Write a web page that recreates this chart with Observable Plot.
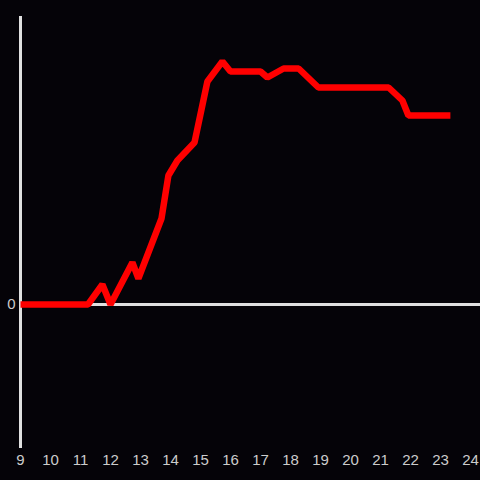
<!DOCTYPE html>
<html>
<head>
<meta charset="utf-8">
<script src="https://cdn.jsdelivr.net/npm/d3@7"></script>
<script src="https://cdn.jsdelivr.net/npm/@observablehq/plot@0.6"></script>
<style>
  html, body { margin: 0; padding: 0; background: #050308; }
  #chart { width: 480px; height: 480px; }
  #chart svg text { font-size: 15px !important; font-family: "Liberation Sans", Arial, sans-serif !important; }
</style>
</head>
<body>
<div id="chart"></div>
<script>
const hours  = [9, 11.25, 11.73, 12.0, 12.73, 12.93, 13.7, 13.93, 14.23, 14.8, 15.23, 15.73, 16.0, 17.0, 17.23, 17.77, 18.27, 18.93, 21.27, 21.73, 21.93, 23.33];
const values = [0, 0, 0.20, 0, 0.42, 0.26, 0.86, 1.29, 1.44, 1.62, 2.23, 2.43, 2.33, 2.33, 2.27, 2.36, 2.36, 2.17, 2.17, 2.04, 1.89, 1.89];
const xTicks = [9, 10, 11, 12, 13, 14, 15, 16, 17, 18, 19, 20, 21, 22, 23, 24];
const yTicks = [0];

const data = hours.map((h, i) => ({hour: h, value: values[i]}));

const chart = Plot.plot({
  width: 480,
  height: 480,
  marginLeft: 20,
  marginRight: 0,
  marginTop: 16,
  marginBottom: 32,
  style: {background: "#050308", color: "#cccccc"},
  x: {domain: [9, 9 + 460 / 30]},
  y: {domain: [-1.44, 2.88]},
  marks: [
    Plot.axisX(xTicks, {tickSize: 0, tickPadding: 6, label: null, fill: "#cccccc", tickFormat: d => String(d)}),
    Plot.axisY(yTicks, {tickSize: 0, tickPadding: 5, label: null, fill: "#cccccc", tickFormat: d => String(d)}),
    Plot.ruleY([0], {stroke: "#e0e0e0", strokeWidth: 3}),
    Plot.ruleX([9], {stroke: "#e0e0e0", strokeWidth: 3}),
    Plot.line(data, {x: "hour", y: "value", stroke: "#ff0000", strokeWidth: 6.5, strokeLinejoin: "miter", strokeLinecap: "butt"})
  ]
});
document.getElementById("chart").appendChild(chart);
</script>
</body>
</html>
